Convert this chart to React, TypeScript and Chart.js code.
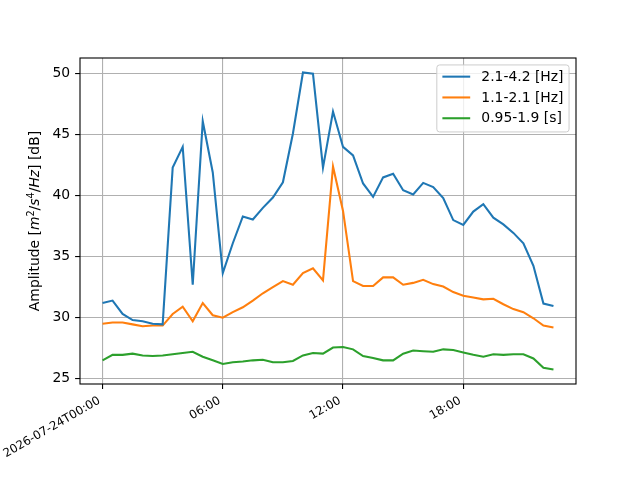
import { useEffect, useRef } from "react";
import { Chart, registerables } from "chart.js";

Chart.register(...registerables);

// hours since 2026-07-24T00:00 (30-minute samples)
const hours = [
  0, 0.5, 1, 1.5, 2, 2.5, 3, 3.5, 4, 4.5, 5, 5.5, 6, 6.5, 7, 7.5, 8, 8.5, 9, 9.5,
  10, 10.5, 11, 11.5, 12, 12.5, 13, 13.5, 14, 14.5, 15, 15.5, 16, 16.5, 17, 17.5,
  18, 18.5, 19, 19.5, 20, 20.5, 21, 21.5, 22, 22.5,
];

const tickHours = [0, 6, 12, 18];
const tickLabels = ["2026-07-24T00:00", "06:00", "12:00", "18:00"];
const yTicks = [25, 30, 35, 40, 45, 50];

const seriesLabels = ["2.1-4.2 [Hz]", "1.1-2.1 [Hz]", "0.95-1.9 [s]"];
const seriesColors = ["#1f77b4", "#ff7f0e", "#2ca02c"];

const band1 = [
  31.2, 31.4, 30.3, 29.8, 29.7, 29.5, 29.45, 42.3, 44.0, 32.7, 46.1, 41.9, 33.65,
  36.1, 38.3, 38.05, 39.0, 39.85, 41.1, 45.1, 50.1, 50.0, 42.3, 46.9, 44.0, 43.3,
  41.0, 39.9, 41.5, 41.8, 40.45, 40.1, 41.05, 40.7, 39.8, 38.0, 37.6, 38.7, 39.3,
  38.2, 37.65, 36.95, 36.1, 34.25, 31.15, 30.95,
];
const band2 = [
  29.5, 29.6, 29.6, 29.45, 29.3, 29.35, 29.35, 30.3, 30.9, 29.7, 31.2, 30.2, 30.0,
  30.45, 30.85, 31.4, 32.0, 32.5, 33.0, 32.7, 33.65, 34.05, 33.05, 42.4, 38.75,
  33.0, 32.6, 32.6, 33.3, 33.3, 32.7, 32.85, 33.1, 32.75, 32.55, 32.1, 31.8, 31.65,
  31.5, 31.55, 31.1, 30.7, 30.45, 29.95, 29.35, 29.2,
];
const band3 = [
  26.5, 26.95, 26.95, 27.05, 26.9, 26.85, 26.9, 27.0, 27.1, 27.2, 26.8, 26.5, 26.2,
  26.35, 26.4, 26.5, 26.55, 26.35, 26.35, 26.45, 26.9, 27.1, 27.05, 27.55, 27.6,
  27.4, 26.85, 26.7, 26.5, 26.5, 27.05, 27.3, 27.25, 27.2, 27.4, 27.35, 27.15,
  26.95, 26.8, 27.0, 26.95, 27.0, 27.0, 26.65, 25.9, 25.75,
];

const FONT = "'DejaVu Sans', sans-serif";
const FS = 13.9;
const XFS = 11.8;

const framePlugin = {
  id: "mplFrame",
  afterDraw(chart: any) {
    const { ctx, chartArea } = chart;
    const { left, right, top, bottom } = chartArea;
    ctx.save();
    // spines
    ctx.strokeStyle = "#000";
    ctx.lineWidth = 1.1;
    ctx.strokeRect(left, top, right - left, bottom - top);

    // y-axis label with math-style segments
    const segs = [
      { t: "Amplitude [", f: `${FS}px ${FONT}`, dy: 0 },
      { t: "m", f: `italic ${FS}px ${FONT}`, dy: 0 },
      { t: "2", f: `${FS * 0.7}px ${FONT}`, dy: -5.6 },
      { t: "/", f: `${FS}px ${FONT}`, dy: 0 },
      { t: "s", f: `italic ${FS}px ${FONT}`, dy: 0 },
      { t: "4", f: `${FS * 0.7}px ${FONT}`, dy: -5.6 },
      { t: "/", f: `${FS}px ${FONT}`, dy: 0 },
      { t: "Hz", f: `italic ${FS}px ${FONT}`, dy: 0 },
      { t: "] [dB]", f: `${FS}px ${FONT}`, dy: 0 },
    ];
    let total = 0;
    const widths: number[] = [];
    for (const s of segs) {
      ctx.font = s.f;
      const w = ctx.measureText(s.t).width;
      widths.push(w);
      total += w;
    }
    ctx.translate(39.3, (top + bottom) / 2);
    ctx.rotate(-Math.PI / 2);
    ctx.fillStyle = "#000";
    ctx.textBaseline = "alphabetic";
    ctx.textAlign = "left";
    let x = -total / 2;
    segs.forEach((s, i) => {
      ctx.font = s.f;
      ctx.fillText(s.t, x, s.dy);
      x += widths[i];
    });
    ctx.restore();

    // legend
    ctx.save();
    ctx.font = `${FS}px ${FONT}`;
    const datasets = chart.data.datasets;
    let maxW = 0;
    for (const d of datasets) maxW = Math.max(maxW, ctx.measureText(d.label).width);
    const pad = 0.4 * FS;
    const handle = 2 * FS;
    const htp = 0.8 * FS;
    const rowStep = 20.8;
    const w = pad + handle + htp + maxW + pad;
    const h = 67;
    const bx = right - 0.5 * FS - w;
    const by = top + 0.5 * FS;
    const r = 2.8;
    ctx.beginPath();
    ctx.moveTo(bx + r, by);
    ctx.lineTo(bx + w - r, by);
    ctx.arcTo(bx + w, by, bx + w, by + r, r);
    ctx.lineTo(bx + w, by + h - r);
    ctx.arcTo(bx + w, by + h, bx + w - r, by + h, r);
    ctx.lineTo(bx + r, by + h);
    ctx.arcTo(bx, by + h, bx, by + h - r, r);
    ctx.lineTo(bx, by + r);
    ctx.arcTo(bx, by, bx + r, by, r);
    ctx.closePath();
    ctx.fillStyle = "rgba(255,255,255,0.8)";
    ctx.fill();
    ctx.strokeStyle = "#cccccc";
    ctx.lineWidth = 1;
    ctx.stroke();
    datasets.forEach((d: any, i: number) => {
      const cy = by + 11.7 + i * rowStep;
      ctx.strokeStyle = d.borderColor;
      ctx.lineWidth = 2.08;
      ctx.beginPath();
      ctx.moveTo(bx + pad, cy);
      ctx.lineTo(bx + pad + handle, cy);
      ctx.stroke();
      ctx.fillStyle = "#000";
      ctx.textBaseline = "middle";
      ctx.textAlign = "left";
      ctx.fillText(d.label, bx + pad + handle + htp, cy + 0.5);
    });
    ctx.restore();
  },
};

export default function App() {
  const ref = useRef<HTMLCanvasElement | null>(null);

  useEffect(() => {
    document.body.style.margin = "0";
    const canvas = ref.current;
    if (!canvas) return;
    const series = [band1, band2, band3];
    const chart = new Chart(canvas, {
      type: "line",
      data: {
        datasets: series.map((vals, i) => ({
          label: seriesLabels[i],
          data: hours.map((h, j) => ({ x: h, y: vals[j] })),
          borderColor: seriesColors[i],
          backgroundColor: seriesColors[i],
          borderWidth: 2.08,
          pointRadius: 0,
          tension: 0,
          fill: false,
        })),
      },
      options: {
        responsive: false,
        animation: false,
        devicePixelRatio: 1,
        layout: { padding: { left: 0, right: 64, top: 58, bottom: 0 } },
        plugins: {
          legend: { display: false },
          tooltip: { enabled: false },
          title: { display: false },
        },
        scales: {
          x: {
            type: "linear",
            min: -1.125,
            max: 23.625,
            afterBuildTicks: (s: any) => {
              s.ticks = tickHours.map((v) => ({ value: v }));
            },
            afterFit: (s: any) => {
              s.height = 96;
              s.paddingLeft = 0;
              s.paddingRight = 0;
            },
            ticks: {
              autoSkip: false,
              minRotation: 30,
              maxRotation: 30,
              padding: 4.9,
              labelOffset: -3,
              color: "#000",
              font: { family: FONT, size: XFS },
              callback: (v: any) => {
                const k = tickHours.indexOf(Number(v));
                return k >= 0 ? tickLabels[k] : "";
              },
            },
            grid: {
              color: "#b0b0b0",
              lineWidth: 1.1,
              tickColor: "#000",
              tickLength: 4.9,
              tickWidth: 1.1,
            },
            border: { display: false },
          },
          y: {
            type: "linear",
            min: 24.56,
            max: 51.29,
            afterBuildTicks: (s: any) => {
              s.ticks = yTicks.map((v) => ({ value: v }));
            },
            afterFit: (s: any) => {
              s.width = 80;
              s.paddingTop = 0;
              s.paddingBottom = 0;
            },
            ticks: {
              padding: 4.9,
              color: "#000",
              font: { family: FONT, size: FS },
              callback: (v: any) => String(v),
            },
            grid: {
              color: "#b0b0b0",
              lineWidth: 1.1,
              tickColor: "#000",
              tickLength: 4.9,
              tickWidth: 1.1,
            },
            border: { display: false },
          },
        },
      },
      plugins: [framePlugin],
    });
    return () => chart.destroy();
  }, []);

  return (
    <div style={{ position: "absolute", left: 0, top: 0, width: 640, height: 480, background: "#fff" }}>
      <canvas ref={ref} width={640} height={480} style={{ display: "block" }} />
    </div>
  );
}
